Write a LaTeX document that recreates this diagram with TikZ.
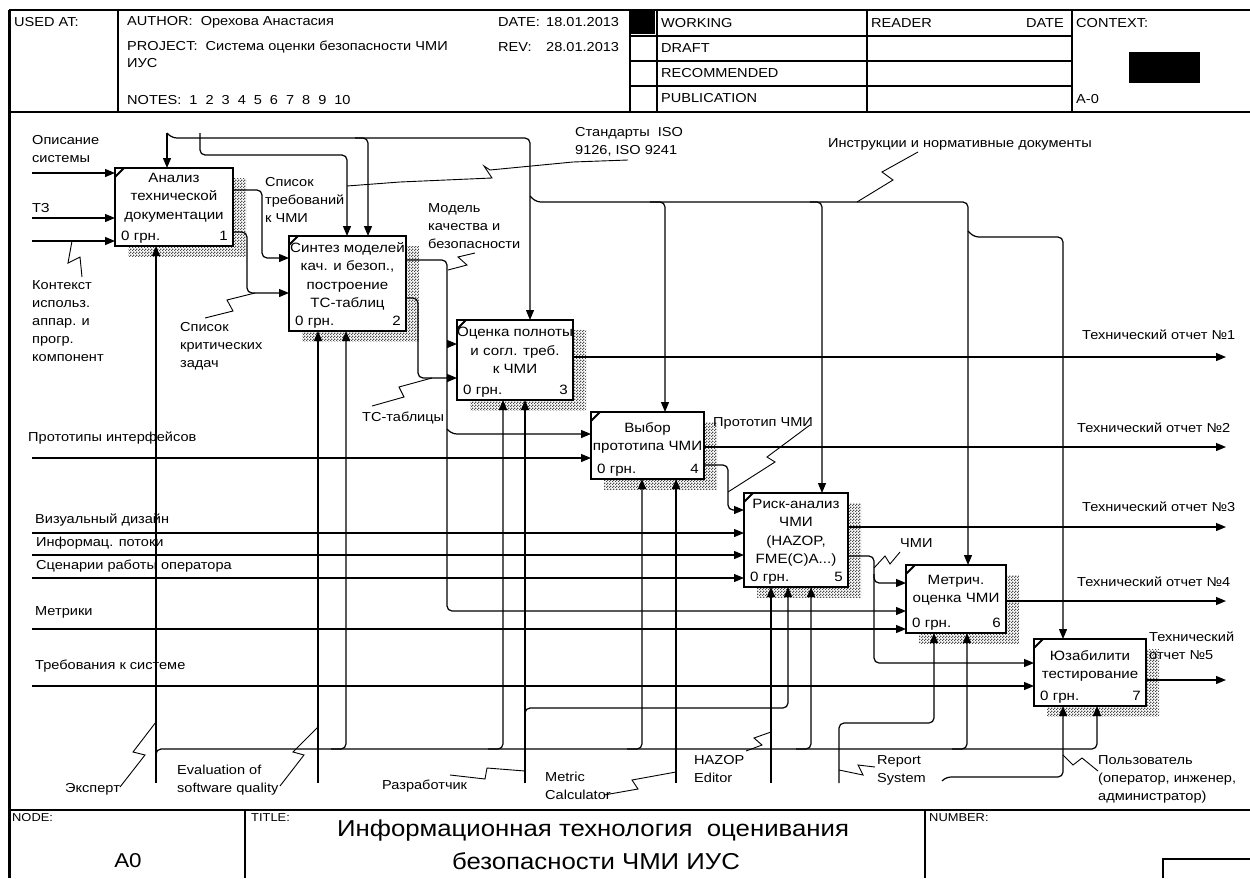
\documentclass[tikz,border=0pt]{standalone}
\usepackage{fontspec}
\setmainfont{Liberation Sans}[FakeStretch=1.12]
\usetikzlibrary{arrows.meta,calc,patterns,backgrounds}
\newcommand\mylbl{\fontsize{13}{18}\selectfont}
\newcommand\myboxf{\fontsize{13.5}{18.5}\selectfont}
\newcommand\myhdr{\fontsize{13}{15}\selectfont}
\newcommand\mysmall{\fontsize{11.5}{13}\selectfont}
\pgfdeclarepatternformonly{dither}{\pgfqpoint{0pt}{0pt}}{\pgfqpoint{3pt}{3pt}}{\pgfqpoint{3pt}{3pt}}{%
  \pgfpathrectangle{\pgfqpoint{0pt}{0pt}}{\pgfqpoint{1.5pt}{1.5pt}}%
  \pgfpathrectangle{\pgfqpoint{1.5pt}{1.5pt}}{\pgfqpoint{1.5pt}{1.5pt}}%
  \pgfusepath{fill}}
\begin{document}
\begin{tikzpicture}[x=1pt,y=-1pt,
  frame/.style={line width=1.4pt},
  box/.style={draw, line width=2pt, fill=white, anchor=north west, inner sep=0pt, outer sep=0pt},
  shadow/.style={pattern=dither, pattern color=black!70},
  arr/.style={line width=1.2pt, rounded corners=5pt, -{Triangle[length=10pt,width=8pt]}},
  sq/.style={line width=0.9pt},
  lbl/.style={font=\mylbl, inner sep=0pt, anchor=north west, align=left},
  btxt/.style={font=\myboxf, inner sep=0pt, anchor=north, align=center},
  bnum/.style={font=\myboxf, inner sep=0pt},
  hdr/.style={font=\myhdr, inner sep=0pt, anchor=west},
  small/.style={font=\mysmall, inner sep=0pt, anchor=west}]
\useasboundingbox (0,0) rectangle (1250,878);
\begin{pgfonlayer}{background}
\fill[white] (0,0) rectangle (1250,878);
\end{pgfonlayer}

% ---------- frame ----------
\draw[line width=3pt] (9,10) -- (9,878);
\draw[frame] (9,10) -- (1250,10);
\draw[frame] (9,112) -- (1250,112);
\draw[frame] (118,10) -- (118,112);
\draw[frame] (630,10) -- (630,112);
\draw[frame] (657,10) -- (657,112);
\draw[frame] (867,10) -- (867,112);
\draw[frame] (1072,10) -- (1072,112);
\foreach \yy in {36,61,86} \draw[frame] (630,\yy) -- (1072,\yy);
\fill (630,10) rectangle (655,34);
\fill (1129,52) rectangle (1200,83);
\draw[frame] (9,810) -- (1250,810);
\draw[frame] (245,810) -- (245,878);
\draw[frame] (925,810) -- (925,878);
\draw[frame] (1163,878) -- (1163,859) -- (1250,859);

% ---------- header text ----------
\node[hdr] (usedat) at (14,22) {USED AT:};
\node[hdr] (author) at (127,22) {AUTHOR:\ \ Орехова Анастасия};
\node[hdr] (project) at (127,47) {PROJECT:\ \ Система оценки безопасности ЧМИ};
\node[hdr] (ius) at (127,63) {ИУС};
\node[hdr] (notes) at (127,100) {NOTES:\ \ 1\hspace{8pt}2\hspace{8pt}3\hspace{8pt}4\hspace{8pt}5\hspace{8pt}6\hspace{8pt}7\hspace{8pt}8\hspace{8pt}9\hspace{8pt}10};
\node[hdr] (datel) at (498,22) {DATE:};
\node[hdr] (datev) at (546,22) {18.01.2013};
\node[hdr] (revl) at (498,47) {REV:};
\node[hdr] (revv) at (546,47) {28.01.2013};
\node[hdr] (working) at (661,23) {WORKING};
\node[hdr] (draft) at (661,48) {DRAFT};
\node[hdr] (recom) at (661,73) {RECOMMENDED};
\node[hdr] (publ) at (661,98) {PUBLICATION};
\node[hdr] (reader) at (871,23) {READER};
\node[hdr, anchor=east] (rdate) at (1064,23) {DATE};
\node[hdr] (context) at (1076,23) {CONTEXT:};
\node[hdr] (azero) at (1076,99) {A-0};

% ---------- bottom text ----------
\node[small] (nodel) at (12,818) {NODE:};
\node[small] (titlel) at (251,818) {TITLE:};
\node[small] (numberl) at (929,818) {NUMBER:};
\node[font=\fontsize{20}{24}\selectfont, inner sep=0pt] (azeroB) at (128,861) {A0};
\node[font=\fontsize{23}{28}\selectfont, inner sep=0pt] (title1) at (593,831) {Информационная технология\ \ оценивания};
\node[font=\fontsize{23}{28}\selectfont, inner sep=0pt] (title2) at (596,861) {безопасности ЧМИ ИУС};

% ---------- boxes ----------
\node[box, minimum width=118, minimum height=78] (B1) at (115,168) {};
\node[box, minimum width=117, minimum height=95] (B2) at (289,236) {};
\node[box, minimum width=116, minimum height=80] (B3) at (457,320) {};
\node[box, minimum width=113, minimum height=67] (B4) at (591,412) {};
\node[box, minimum width=104, minimum height=94] (B5) at (744,493) {};
\node[box, minimum width=100, minimum height=68] (B6) at (906,565) {};
\node[box, minimum width=112, minimum height=67] (B7) at (1034,639) {};
\begin{pgfonlayer}{background}
\foreach \bx in {B1,B2,B3,B4,B5,B6,B7}
  \fill[shadow] ($(\bx.north west)+(13,10)$) rectangle ($(\bx.south east)+(13,10)$);
\end{pgfonlayer}
\foreach \bx/\nn in {B1/1,B2/2,B3/3,B4/4,B5/5,B6/6,B7/7}{
  \draw[line width=2pt] ($(\bx.north west)+(0,9)$) -- ($(\bx.north west)+(9,0)$);
  \node[bnum, anchor=base west] at ($(\bx.south west)+(6,-5.5)$) {0 грн.};
  \node[bnum, anchor=base east] at ($(\bx.south east)+(-5,-5.5)$) {\nn};
}
\node[btxt] at ($(B1.north)+(0,5)$) {Анализ\\технической\\документации};
\node[btxt] at ($(B2.north)+(0,6)$) {Синтез моделей\\кач. и безоп.,\\построение\\ТС-таблиц};
\node[btxt] at ($(B3.north)+(0,7)$) {Оценка полноты\\и согл. треб.\\к ЧМИ};
\node[btxt] at ($(B4.north)+(0,10)$) {Выбор\\прототипа ЧМИ};
\node[btxt] at ($(B5.north)+(0,6)$) {Риск-анализ\\ЧМИ\\(HAZOP,\\FME(C)A...)};
\node[btxt] at ($(B6.north)+(0,10)$) {Метрич.\\оценка ЧМИ};
\node[btxt] at ($(B7.north)+(0,11)$) {Юзабилити\\тестирование};

% ---------- controls ----------
\draw[arr] (167,133) -- (B1.north -| 167,0);
\draw[arr] (167,133) -- (172,138) -- (530,138) -- (B3.north -| 530,0);
\draw[arr] (355,138) -- (368,138) -- (B2.north -| 368,0);
\draw[arr] (200,133) -- (200,155) -- (347,155) -- (B2.north -| 347,0);
\draw[arr] (530,196) -- (536,202) -- (665,202) -- (B4.north -| 665,0);
\draw[arr] (650,202) -- (822,202) -- (B5.north -| 822,0);
\draw[arr] (810,202) -- (968,202) -- (B6.north -| 968,0);
\draw[arr] (968,231) -- (974,237) -- (1063,237) -- (B7.north -| 1063,0);

% ---------- inputs / outputs ----------
\draw[arr] (32,173) -- (B1.west |- 0,173);
\draw[arr] (32,218) -- (B1.west |- 0,218);
\draw[arr] (32,241) -- (B1.west |- 0,241);
\draw[arr] (B1.east |- 0,190) -- (262,190) -- (262,258) -- (B2.west |- 0,258);
\draw[arr] (B1.east |- 0,232) -- (247,232) -- (247,293) -- (B2.west |- 0,293);
\draw[arr] (B2.east |- 0,260) -- (447,260) -- (447,611) -- (B6.west |- 0,611);
\draw[arr] (447,344) -- (B3.west |- 0,344);
\draw[arr] (447,429) -- (452,434) -- (B4.west |- 0,434);
\draw[arr] (B2.east |- 0,298) -- (418,298) -- (418,378) -- (B3.west |- 0,378);
\draw[arr] (B3.east |- 0,357) -- (1226,357);
\draw[arr] (32,458) -- (B4.west |- 0,458);
\draw[arr] (B4.east |- 0,447) -- (1226,447);
\draw[arr] (B4.east |- 0,465) -- (728,465) -- (728,510) -- (B5.west |- 0,510);
\draw[arr] (32,533) -- (B5.west |- 0,533);
\draw[arr] (32,555) -- (B5.west |- 0,555);
\draw[arr] (32,578) -- (B5.west |- 0,578);
\draw[arr] (B5.east |- 0,527) -- (1226,527);
\draw[arr] (B5.east |- 0,556) -- (874,556) -- (874,663) -- (B7.west |- 0,663);
\draw[arr] (874,574) -- (874,583) -- (B6.west |- 0,583);
\draw[arr] (32,629) -- (B6.west |- 0,629);
\draw[arr] (B6.east |- 0,601) -- (1226,601);
\draw[arr] (32,686) -- (B7.west |- 0,686);
\draw[arr] (B7.east |- 0,680) -- (1226,680);

% ---------- mechanisms ----------
\draw[arr] (156,783) -- (B1.south -| 156,0);
\draw[arr] (156,760) -- (156,749) -- (1097,749) -- (B7.south -| 1097,0);
\foreach \x/\bx in {346/B2,503/B3,642/B4,811/B5,967/B6}
  \draw[arr] (\x-15,749) -- (\x,749) -- (\bx.south -| \x,0);
\draw[arr] (318,783) -- (B2.south -| 318,0);
\draw[arr] (525,783) -- (B3.south -| 525,0);
\draw[arr] (525,716) -- (525,708) -- (788,708) -- (B5.south -| 788,0);
\draw[arr] (676,783) -- (B4.south -| 676,0);
\draw[arr] (771,783) -- (B5.south -| 771,0);
\draw[arr] (839,783) -- (839,723) -- (934,723) -- (B6.south -| 934,0);
\draw[arr] (942,781) -- (946,777) -- (1063,777) -- (B7.south -| 1063,0);

% ---------- squiggles ----------
\draw[sq] (72,241) -- (68,263) -- (80,257) -- (82,277);
\draw[sq] (205,318) -- (233,311) -- (227,300) -- (255,293);
\draw[sq] (628,160) -- (573,162) -- (490,170) -- (484,166) -- (492,178) -- (400,182) -- (347,186);
\draw[sq] (475,253) -- (458,257) -- (467,265) -- (448,270);
\draw[sq] (918,152) -- (882,172) -- (893,180) -- (857,202);
\draw[sq] (372,406) -- (404,397) -- (399,387) -- (432,378);
\draw[sq] (810,425) -- (767,457) -- (775,462) -- (728,492);
\draw[sq] (900,552) -- (890,564) -- (885,556) -- (874,568);
\draw[sq] (120,787) -- (145,755) -- (133,752) -- (156,722);
\draw[sq] (280,786) -- (304,755) -- (293,752) -- (318,727);
\draw[sq] (450,775) -- (485,779) -- (487,768) -- (525,771);
\draw[sq] (604,795) -- (638,789) -- (632,780) -- (676,772);
\draw[sq] (746,751) -- (762,745) -- (754,738) -- (771,732);
\draw[sq] (839,770) -- (863,775) -- (858,765) -- (875,767);
\draw[sq] (1063,755) -- (1073,765) -- (1082,758) -- (1098,771);

% ---------- labels ----------
\node[lbl] (l1) at (32,135) {Описание\\системы};
\node[lbl] (l2) at (32,203) {ТЗ};
\node[lbl] (l3) at (32,280) {Контекст\\использ.\\аппар. и\\прогр.\\компонент};
\node[lbl] (l4) at (265,177) {Список\\требований\\к ЧМИ};
\node[lbl] (l5) at (180,322) {Список\\критических\\задач};
\node[lbl] (l6) at (575,127) {Стандарты\ \ ISO\\9126, ISO 9241};
\node[lbl] (l7) at (428,203) {Модель\\качества и\\безопасности};
\node[lbl] (l8) at (828,138) {Инструкции и нормативные документы};
\node[lbl] (l9) at (1082,330) {Технический отчет №1};
\node[lbl] (l10) at (362,412) {ТС-таблицы};
\node[lbl] (l11) at (28,432) {Прототипы интерфейсов};
\node[lbl] (l12) at (713,417) {Прототип ЧМИ};
\node[lbl] (l13) at (1077,423) {Технический отчет №2};
\node[lbl] (l14) at (35,514) {Визуальный дизайн};
\node[lbl] (l15) at (36,537) {Информац. потоки};
\node[lbl] (l16) at (36,560) {Сценарии работы оператора};
\node[lbl] (l17) at (1082,502) {Технический отчет №3};
\node[lbl] (l18) at (900,538) {ЧМИ};
\node[lbl] (l19) at (35,606) {Метрики};
\node[lbl] (l20) at (1077,577) {Технический отчет №4};
\node[lbl] (l21) at (35,660) {Требования к системе};
\node[lbl] (l22) at (1149,632) {Технический\\отчет №5};
\node[lbl] (l23) at (65,783) {Эксперт};
\node[lbl] (l24) at (177,765) {Evaluation of\\software quality};
\node[lbl] (l25) at (382,780) {Разработчик};
\node[lbl] (l26) at (545,772) {Metric\\Calculator};
\node[lbl] (l27) at (694,755) {HAZOP\\Editor};
\node[lbl] (l28) at (877,755) {Report\\System};
\node[lbl] (l29) at (1098,755) {Пользователь\\(оператор, инженер,\\администратор)};
\end{tikzpicture}
\end{document}
